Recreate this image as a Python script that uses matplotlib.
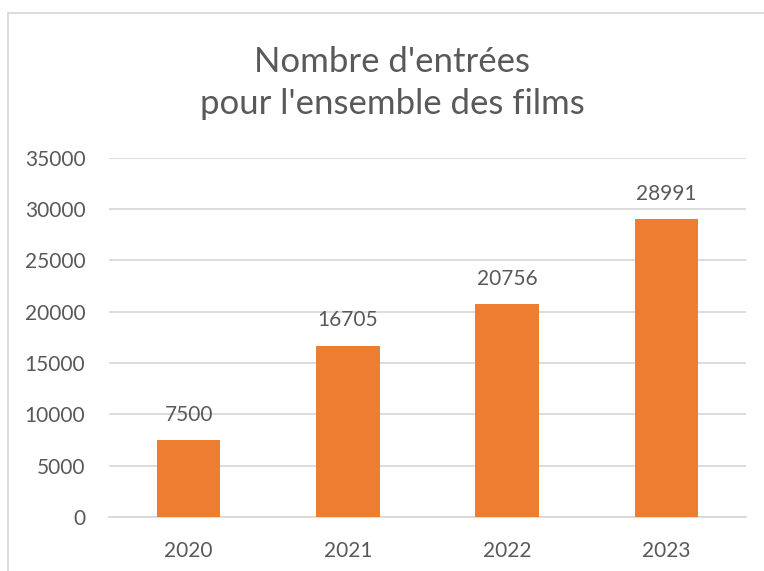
import matplotlib
matplotlib.use("Agg")
import matplotlib.pyplot as plt
from matplotlib.lines import Line2D

years = ["2020", "2021", "2022", "2023"]
entrees = [7500, 16705, 20756, 28991]
yticks = [0, 5000, 10000, 15000, 20000, 25000, 30000, 35000]
title = "Nombre d'entrées\npour l'ensemble des films"

plt.rcParams['font.family'] = ['Lato', 'DejaVu Sans']
text_c = "#595959"
grid_c = "#D9D9D9"
bar_c = "#ED7D31"

fig = plt.figure(figsize=(7.64, 5.71), dpi=100)
W, H = 764, 571
ax = fig.add_axes([109 / W, 1 - 517 / H, (746 - 109) / W, (517 - 157.7) / H])

x = range(len(years))
bars = ax.bar(x, entrees, width=0.40, color=bar_c, zorder=3)
ax.set_xlim(-0.5, len(years) - 0.5)
ax.set_ylim(0, 35000)
ax.set_yticks(yticks)
ax.set_yticklabels([str(v) for v in yticks])
ax.set_xticks(list(x))
ax.set_xticklabels(years)
ax.grid(axis='y', color=grid_c, linewidth=1.3, zorder=0)
for s in ['top', 'right', 'left']:
    ax.spines[s].set_visible(False)
ax.spines['bottom'].set_color(grid_c)
ax.spines['bottom'].set_linewidth(1.3)
ax.tick_params(axis='both', length=0, labelsize=15, labelcolor=text_c)
ax.tick_params(axis='y', pad=17)
ax.tick_params(axis='x', pad=17)

for xi, v in zip(x, entrees):
    ax.annotate(str(v), (xi, v), xytext=(0, 11), textcoords='offset points',
                ha='center', va='bottom', fontsize=15, color=text_c)

fig.text(392 / W, 1 - 83 / H, title, ha='center', va='center', fontsize=25,
         color=text_c, linespacing=1.38)

# chart border
fig.add_artist(Line2D([8 / W, 8 / W], [0, 1 - 13 / H], color=grid_c, linewidth=1.3,
                      transform=fig.transFigure))
fig.add_artist(Line2D([8 / W, 1], [1 - 13 / H, 1 - 13 / H], color=grid_c, linewidth=1.3,
                      transform=fig.transFigure))

fig.savefig("out.png", dpi=100)
